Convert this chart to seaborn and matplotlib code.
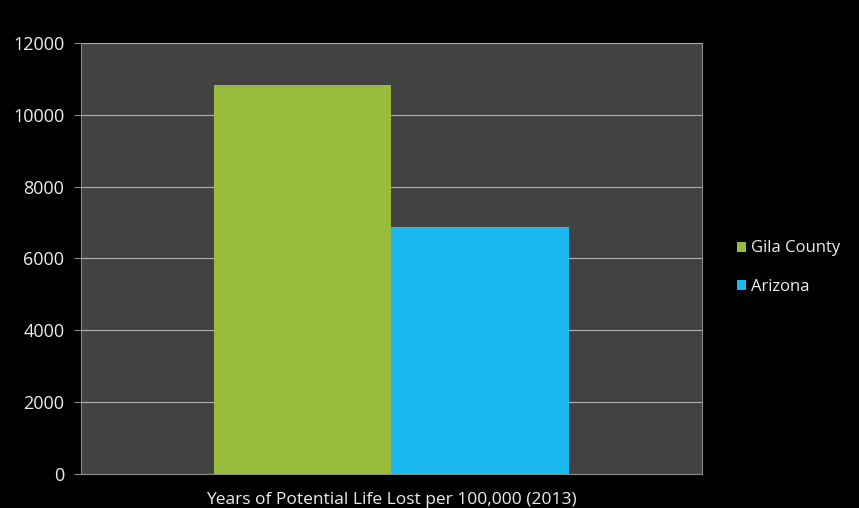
import pandas as pd
import matplotlib
matplotlib.use("Agg")
import matplotlib.pyplot as plt
import seaborn as sns

# data
category = ["Years of Potential Life Lost per 100,000 (2013)"]
regions = ["Gila County", "Arizona"]
ypll = [10840, 6870]
colors = ["#98bb3c", "#1bb9ef"]

df = pd.DataFrame({
    "measure": category * len(regions),
    "region": regions,
    "ypll": ypll,
})

sns.set_theme(style="dark")
plt.rcParams["font.family"] = ["Open Sans", "DejaVu Sans"]

fig = plt.figure(figsize=(8.59, 5.08), dpi=100, facecolor="black")
ax = fig.add_axes([0.0943, 0.067, 0.7227, 0.8484])
ax.set_facecolor("#424242")

sns.barplot(data=df, x="measure", y="ypll", hue="region", palette=colors,
            width=0.572, saturation=1, linewidth=0, ax=ax, zorder=3)

ax.set_ylim(0, 12000)
ax.set_yticks(range(0, 12001, 2000))
ax.yaxis.grid(True, color="#b0b0b0", linewidth=0.8, zorder=1)
ax.xaxis.grid(False)

ax.tick_params(axis="y", colors="#8a8a8a", labelcolor="#ececec", labelsize=13,
               length=5, width=0.8, direction="out", left=True, pad=7)
ax.tick_params(axis="x", labelcolor="#ececec", labelsize=12.5, length=0, pad=13)
ax.set_xlabel("")
ax.set_ylabel("")

for side in ["left", "bottom", "right"]:
    ax.spines[side].set_visible(True)
    ax.spines[side].set_color("#8a8a8a")
    ax.spines[side].set_linewidth(0.8)
ax.spines["top"].set_visible(False)

leg = ax.legend(loc="center left", bbox_to_anchor=(0.84, 0.473),
                bbox_transform=fig.transFigure, frameon=False,
                fontsize=12, handlelength=0.55, handleheight=0.55,
                handletextpad=0.3, labelspacing=1.35)
for t in leg.get_texts():
    t.set_color("#ececec")

fig.savefig("out.png", dpi=100, facecolor="black")
